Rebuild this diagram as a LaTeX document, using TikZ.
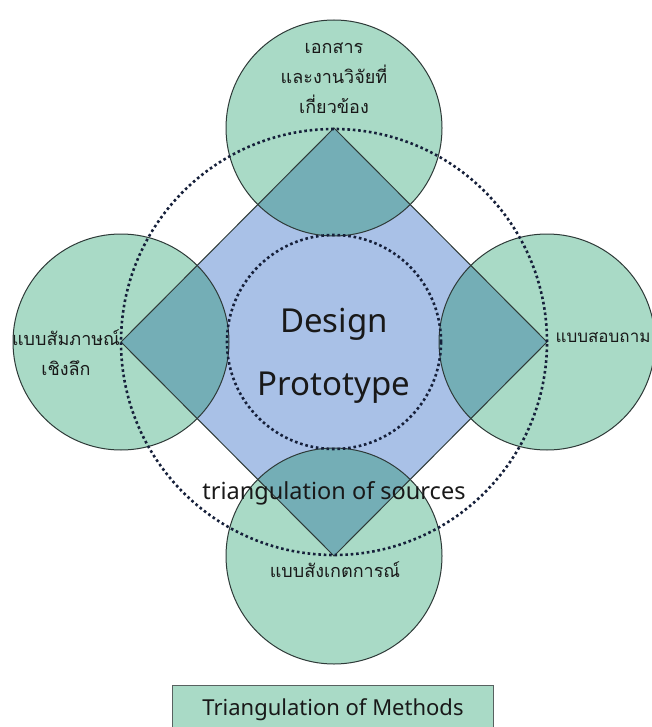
\documentclass[tikz,border=0pt]{standalone}
\usepackage{fontspec}
\setmainfont{Noto Sans}
\newfontfamily\thaifont[Script=Thai]{Loma}
\usetikzlibrary{positioning}

\definecolor{mgreen}{HTML}{A9DAC6}
\definecolor{dblue}{HTML}{A9C1E7}
\definecolor{olap}{HTML}{74AEB6}
\definecolor{edge}{HTML}{2E3A38}
\definecolor{dotc}{HTML}{16203A}

\tikzset{
  method/.style={circle, inner sep=0pt, minimum size=216pt, fill=mgreen},
  rim/.style={draw=edge, line width=1pt},
  ring/.style={draw=dotc, line width=2.6pt, dash pattern=on 2.6pt off 2.8pt},
  thlabel/.style={font=\thaifont\fontsize{18}{30}\selectfont, text=black!90, align=center},
}

\begin{document}
\begin{tikzpicture}[x=1pt,y=-1pt]
  \useasboundingbox (0,0) rectangle (651,727);

  % corners of the design diamond
  \coordinate (t) at (334,128);
  \coordinate (r) at (547,342);
  \coordinate (b) at (334,556);
  \coordinate (l) at (121,342);

  % the four methods
  \node[method] (doc) at (t) {};
  \node[method] (ask) at (r) {};
  \node[method] (obs) at (b) {};
  \node[method] (itv) at (l) {};

  \fill[dblue] (t) -- (r) -- (b) -- (l) -- cycle;
  \begin{scope}
    \clip (t) -- (r) -- (b) -- (l) -- cycle;
    \foreach \c in {t,r,b,l}
      \fill[olap] (\c) circle[radius=108pt];
  \end{scope}

  \foreach \c in {t,r,b,l}
    \draw[rim] (\c) circle[radius=108pt];
  \draw[rim] (t) -- (r) -- (b) -- (l) -- cycle;

  % sources rings
  \coordinate (o) at (334,342);
  \draw[ring] (o) circle[radius=213pt];
  \draw[ring] (o) circle[radius=107pt];

  \node[font=\fontsize{33}{63}\selectfont, text=black!90, align=center] (dp) at (334,356) {Design\\Prototype};
  \node[font=\fontsize{23.5}{26}\selectfont, text=black!90] (src) at (334,493) {triangulation of sources};

  \node[thlabel] (doctxt) at (334,78) {เอกสาร\\และงานวิจัยที่\\เกี่ยวข้อง};
  \node[thlabel] (itvtxt) at (66,353) {แบบสัมภาษณ์\\เชิงลึก};
  \node[thlabel, font=\thaifont\fontsize{17}{30}\selectfont, anchor=west] (asktxt) at (552,338) {แบบสอบถาม};
  \node[thlabel] (obstxt) at (335,570) {แบบสังเกตการณ์};

  \node[fill=mgreen, draw=edge!80, line width=1pt, minimum width=321pt, minimum height=50pt,
        font=\fontsize{22}{26}\selectfont, text=black!90] (tm) at (333,710) {Triangulation of Methods};
\end{tikzpicture}
\end{document}
